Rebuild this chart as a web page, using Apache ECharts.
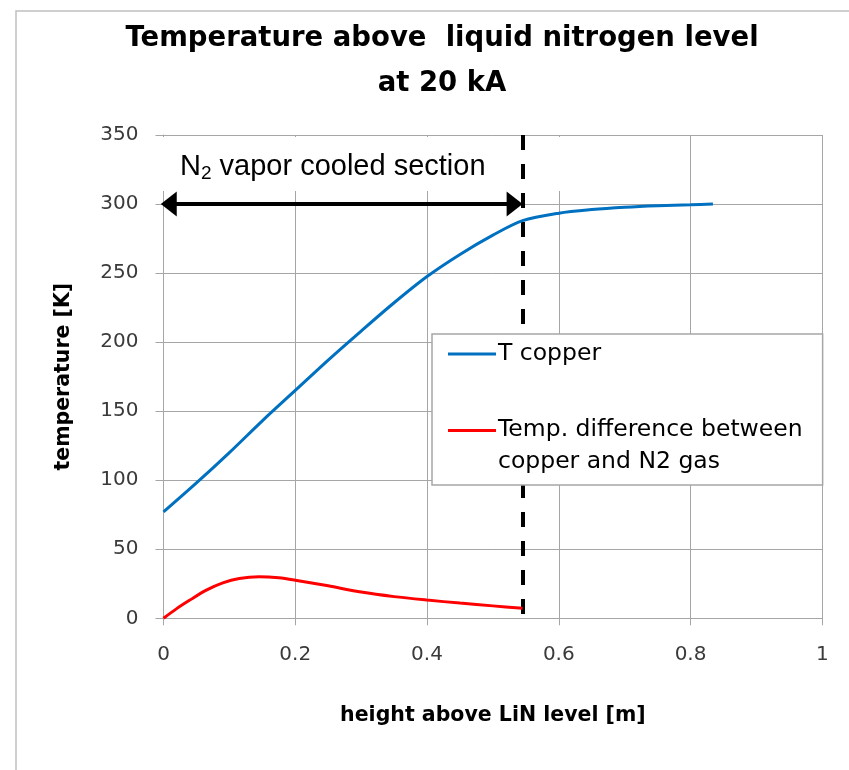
<!DOCTYPE html>
<html>
<head>
<meta charset="utf-8">
<script src="https://cdn.jsdelivr.net/npm/echarts@6/dist/echarts.min.js"></script>
<style>html,body{margin:0;padding:0;background:#fff;}#chart{width:849px;height:770px;}</style>
</head>
<body>
<div id="chart"></div>
<script>
// ---- data ----
const copperHeight = [0, 0.05, 0.1, 0.15, 0.2, 0.25, 0.3, 0.35, 0.4, 0.45, 0.5, 0.545, 0.6, 0.65, 0.7, 0.75, 0.8, 0.834];
const copperTemp   = [77, 98, 120, 143, 165, 187, 208, 228.5, 247.5, 263.5, 277.5, 288, 293.4, 296, 297.7, 298.8, 299.5, 300];
const diffHeight = [0, 0.02, 0.04, 0.065, 0.09, 0.115, 0.145, 0.175, 0.2, 0.25, 0.3, 0.35, 0.4, 0.45, 0.5, 0.545];
const diffTemp   = [0, 7, 13.2, 20.4, 25.7, 28.8, 30.0, 29.3, 27.6, 23.5, 19.0, 15.7, 13.2, 11.0, 9.0, 7.2];
const sectionEnd = 0.545;          // end of N2 vapor cooled section [m]
const arrowFrom = 0.008, arrowTo = 0.533;  // arrow-head centres [m]
const arrowLevel = 300;            // K
const seriesNames = ['T copper', 'Temp. difference between\ncopper and N2 gas'];
const xTicks = [0, 1, 0.2];        // min, max, interval
const yTicks = [0, 350, 50];

const pairs = (xs, ys) => xs.map((x, i) => [x, ys[i]]);
const sans = '"DejaVu Sans", Verdana, sans-serif';
const gridGray = '#a6a6a6';

const chart = echarts.init(document.getElementById('chart'));
chart.setOption({
  backgroundColor: '#fff',
  animation: false,
  title: {
    text: 'Temperature above  liquid nitrogen level\nat 20 kA',
    left: 442,
    textAlign: 'center',
    top: 16,
    padding: 0,
    textStyle: { fontFamily: sans, fontWeight: 'bold', fontSize: 27.5, lineHeight: 45, color: '#000' }
  },
  legend: {
    orient: 'vertical',
    left: 432, top: 334,
    padding: [3, 20, 7, 16],
    itemGap: 43,
    itemWidth: 48, itemHeight: 34,
    backgroundColor: '#fff',
    borderColor: '#a6a6a6', borderWidth: 1.5,
    selectedMode: false,
    z: 10,
    textStyle: { fontFamily: sans, fontSize: 23.5, lineHeight: 32, color: '#000', padding: [0,0,0,-3] },
    data: [
      { name: seriesNames[0], icon: 'path://M0,0h0.01v0.01h-0.01z M0,15.5H48V18.5H0Z M47.99,33.99h0.01v0.01h-0.01z' },
      { name: seriesNames[1], icon: 'path://M0,0H48V3H0Z M47.99,33.99h0.01v0.01h-0.01z' }
    ]
  },
  grid: { left: 163.5, right: 26.7, top: 135, bottom: 151.7 },
  xAxis: {
    type: 'value', min: xTicks[0], max: xTicks[1], interval: xTicks[2],
    name: 'height above LiN level [m]', nameLocation: 'middle', nameGap: 87,
    nameTextStyle: { fontFamily: sans, fontWeight: 'bold', fontSize: 20.5, color: '#000' },
    axisLine: { lineStyle: { color: gridGray, width: 1 } },
    axisTick: { show: true, length: 7, lineStyle: { color: gridGray } },
    axisLabel: { fontFamily: sans, fontSize: 20, color: '#3a3a3a', margin: 26 },
    splitLine: { show: true, lineStyle: { color: gridGray, width: 1 } }
  },
  yAxis: {
    type: 'value', min: yTicks[0], max: yTicks[1], interval: yTicks[2],
    name: 'temperature [K]', nameLocation: 'middle', nameGap: 89,
    nameTextStyle: { fontFamily: sans, fontWeight: 'bold', fontSize: 20.5, color: '#000' },
    axisLine: { show: true, lineStyle: { color: gridGray, width: 1 } },
    axisTick: { show: true, length: 8, lineStyle: { color: gridGray } },
    axisLabel: { fontFamily: sans, fontSize: 20, color: '#3a3a3a', margin: 25 },
    splitLine: { show: true, lineStyle: { color: gridGray, width: 1 } }
  },
  graphic: [
    { type: 'polyline', z: 0, silent: true,
      shape: { points: [[16, 770], [16, 11], [849, 11]] },
      style: { stroke: '#c0c0c0', lineWidth: 1.5, fill: null } },
    { type: 'rect', z: 1, silent: true,
      shape: { x: 150, y: 137, width: 430, height: 54 },
      style: { fill: '#fff' } },
    { type: 'text', z: 5, silent: true, left: 180, top: 152,
      style: {
        text: 'N{sub|2} vapor cooled section',
        font: '29px "Liberation Sans", Arial, sans-serif',
        fill: '#000',
        rich: { sub: { fontSize: 19, fontFamily: '"Liberation Sans", Arial, sans-serif', padding: [14, 0, 0, 0] } }
      } }
  ],
  series: [
    {
      name: seriesNames[0], type: 'line', data: pairs(copperHeight, copperTemp),
      smooth: 0.3, showSymbol: false, z: 3,
      lineStyle: { color: '#0070C0', width: 3 }, itemStyle: { color: '#0070C0' },
      markLine: {
        silent: true, z: 3,
        label: { show: false },
        symbol: ['none', 'none'],
        lineStyle: { color: '#000', width: 4, type: [15, 14] },
        data: [ [ { coord: [sectionEnd, yTicks[1]] }, { coord: [sectionEnd, yTicks[0]] } ] ]
      }
    },
    {
      name: seriesNames[1], type: 'line', data: pairs(diffHeight, diffTemp),
      smooth: 0.3, showSymbol: false, z: 3,
      lineStyle: { color: '#FF0000', width: 3 }, itemStyle: { color: '#FF0000' },
      markLine: {
        silent: true, z: 7,
        label: { show: false },
        symbol: ['triangle', 'triangle'],
        symbolSize: [25, 16],
        lineStyle: { color: '#000', width: 4, type: 'solid' },
        data: [ [ { coord: [arrowFrom, arrowLevel] }, { coord: [arrowTo, arrowLevel] } ] ]
      }
    }
  ]
});
</script>
</body>
</html>
